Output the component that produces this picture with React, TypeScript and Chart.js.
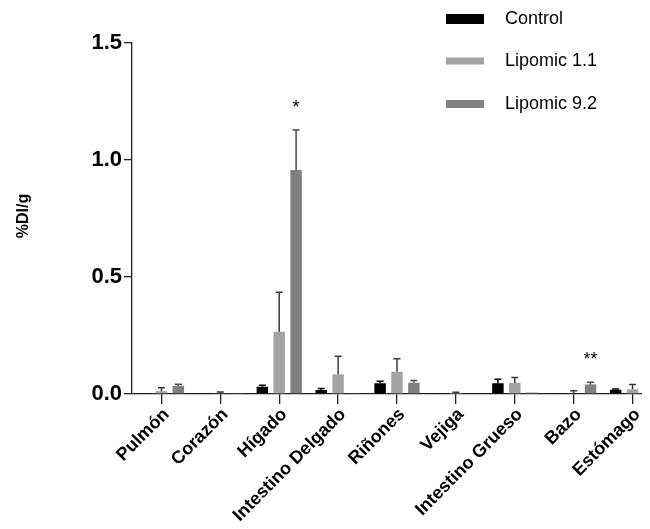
import React, { useEffect, useRef } from "react";
import { Chart, registerables } from "chart.js";

Chart.register(...registerables);

const categories = ["Pulmón", "Corazón", "Hígado", "Intestino Delgado", "Riñones", "Vejiga", "Intestino Grueso", "Bazo", "Estómago"];
const seriesNames = ["Control", "Lipomic 1.1", "Lipomic 9.2"];
const controlValues = [0.002, 0.001, 0.031, 0.017, 0.046, 0.002, 0.046, 0.001, 0.018];
const controlErrors = [0.0, 0.0, 0.006, 0.007, 0.008, 0.0, 0.017, 0.0, 0.003];
const lipo11Values = [0.012, 0.002, 0.266, 0.084, 0.095, 0.001, 0.047, 0.003, 0.02];
const lipo11Errors = [0.015, 0.007, 0.169, 0.077, 0.056, 0.007, 0.023, 0.011, 0.021];
const lipo92Values = [0.035, 0.002, 0.957, 0.002, 0.048, 0.0, 0.006, 0.041, 0.02];
const lipo92Errors = [0.007, 0.0, 0.171, 0.0, 0.01, 0.0, 0.0, 0.009, 0.008];
const lipo92Marks = ["", "", "*", "", "", "", "", "**", ""];
const yTicks = [0, 0.5, 1.0, 1.5];
const yTitle = "%DI/g";

const colors = ["#000000", "#a3a3a6", "#808080"];
const errColors = ["#000000", "#3a3a3a", "#4a4a4a"];
const FONT = "'Liberation Sans', Arial, sans-serif";

export default function App() {
  const ref = useRef<HTMLCanvasElement | null>(null);
  useEffect(() => {
    if (!ref.current) return;
    const errors = [controlErrors, lipo11Errors, lipo92Errors];
    const marks = [null, null, lipo92Marks];

    const errorBars = {
      id: "errorBars",
      afterDatasetsDraw(chart: any) {
        const ctx = chart.ctx;
        const yScale = chart.scales.y;
        chart.data.datasets.forEach((ds: any, di: number) => {
          const meta = chart.getDatasetMeta(di);
          meta.data.forEach((bar: any, i: number) => {
            const v = ds.data[i];
            const e = errors[di][i];
            const top = yScale.getPixelForValue(v + e);
            if (e > 0) {
              ctx.save();
              ctx.strokeStyle = errColors[di];
              ctx.lineWidth = 1.5;
              ctx.beginPath();
              ctx.moveTo(bar.x, yScale.getPixelForValue(v));
              ctx.lineTo(bar.x, top);
              ctx.moveTo(bar.x - 3.5, top);
              ctx.lineTo(bar.x + 3.5, top);
              ctx.stroke();
              ctx.restore();
            }
            const m = marks[di];
            if (m && m[i]) {
              ctx.save();
              ctx.fillStyle = "#000";
              ctx.font = `18px ${FONT}`;
              ctx.textAlign = "center";
              ctx.textBaseline = "middle";
              ctx.fillText(m[i], bar.x, top - 22);
              ctx.restore();
            }
          });
        });
      },
      afterDraw(chart: any) {
        const ctx = chart.ctx;
        const centers = [19, 61, 104];
        const heights = [10, 7, 8];
        ctx.save();
        seriesNames.forEach((name, i) => {
          ctx.fillStyle = colors[i];
          ctx.fillRect(446, centers[i] - heights[i] / 2, 38, heights[i]);
          ctx.fillStyle = "#000";
          ctx.font = `18px ${FONT}`;
          ctx.textAlign = "left";
          ctx.textBaseline = "middle";
          ctx.fillText(name, 505, centers[i]);
        });
        ctx.translate(24, 216);
        ctx.rotate(-Math.PI / 2);
        ctx.font = `bold 16px ${FONT}`;
        ctx.textAlign = "center";
        ctx.textBaseline = "middle";
        ctx.fillText(yTitle, 0, 0);
        ctx.restore();
      },
    };

    const chart = new Chart(ref.current, {
      type: "bar",
      data: {
        labels: categories,
        datasets: [controlValues, lipo11Values, lipo92Values].map((d, i) => ({
          label: seriesNames[i],
          data: d,
          backgroundColor: colors[i],
          borderWidth: 0,
          barPercentage: 0.68,
          categoryPercentage: 0.86,
        })),
      },
      options: {
        animation: false,
        responsive: false,
        layout: { padding: { top: 43, right: 18, left: 0, bottom: 0 } },
        plugins: { legend: { display: false }, tooltip: { enabled: false } },
        scales: {
          x: {
            grid: { drawOnChartArea: false, offset: false, tickLength: 10, color: "#222", lineWidth: 1.3 },
            border: { display: true, color: "#222", width: 1.3 },
            ticks: {
              color: "#000",
              font: { family: FONT, size: 18, weight: "bold" },
              maxRotation: 45,
              minRotation: 45,
              autoSkip: false,
              padding: 0,
              labelOffset: 5,
            },
            afterFit(scale: any) {
              scale.height = 135;
            },
          },
          y: {
            min: 0,
            max: 1.5,
            afterBuildTicks(scale: any) {
              scale.ticks = yTicks.map((v) => ({ value: v }));
            },
            grid: { drawOnChartArea: false, tickLength: 8, color: "#222", lineWidth: 1.3 },
            border: { display: true, color: "#222", width: 1.3 },
            ticks: {
              color: "#000",
              font: { family: FONT, size: 22, weight: "bold" },
              padding: 2,
              callback: (v: any) => Number(v).toFixed(1),
            },
            afterFit(scale: any) {
              scale.width = 132;
            },
          },
        },
      },
      plugins: [errorBars],
    });
    return () => chart.destroy();
  }, []);

  return (
    <div style={{ position: "relative", width: 650, height: 529, overflow: "hidden", margin: -8, background: "#fff" }}>
      <canvas ref={ref} width={680} height={529} style={{ display: "block" }} />
    </div>
  );
}
